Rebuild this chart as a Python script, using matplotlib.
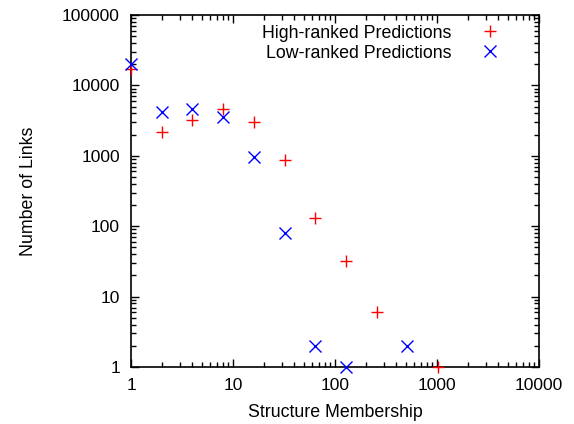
import matplotlib
matplotlib.use("Agg")
import matplotlib.pyplot as plt
from matplotlib.ticker import FixedLocator, FuncFormatter, LogLocator, NullFormatter

plt.rcParams['font.family'] = ['Liberation Sans', 'DejaVu Sans']

high_x = [1, 2, 4, 8, 16, 32, 64, 128, 256, 1024]
high_y = [17000, 2150, 3250, 4650, 3000, 880, 130, 32, 6, 1]
low_x = [1, 2, 4, 8, 16, 32, 64, 128, 512]
low_y = [20000, 4200, 4600, 3600, 960, 80, 2, 1, 2]

x_ticks = [1, 10, 100, 1000, 10000]
y_ticks = [1, 10, 100, 1000, 10000, 100000]

fig = plt.figure(figsize=(5.74, 4.24), dpi=100)
ax = fig.add_axes([131/574, 1 - 367/424, 408/574, 352/424])

ax.plot(high_x, high_y, linestyle='none', marker='+', color='#ff0000',
        markersize=9, mew=1.0, clip_on=False, label='High-ranked Predictions', zorder=3)
ax.plot(low_x, low_y, linestyle='none', marker='x', color='#0000ff',
        markersize=8.5, mew=1.0, clip_on=False, label='Low-ranked Predictions', zorder=3)

ax.set_xscale('log')
ax.set_yscale('log')
ax.set_xlim(1, 10000)
ax.set_ylim(1, 100000)

fmt = FuncFormatter(lambda v, p: f'{int(round(v))}')
ax.xaxis.set_major_locator(FixedLocator(x_ticks))
ax.yaxis.set_major_locator(FixedLocator(y_ticks))
ax.xaxis.set_major_formatter(fmt)
ax.yaxis.set_major_formatter(fmt)
ax.xaxis.set_minor_locator(LogLocator(base=10, subs=range(2, 10), numticks=20))
ax.yaxis.set_minor_locator(LogLocator(base=10, subs=range(2, 10), numticks=20))
ax.xaxis.set_minor_formatter(NullFormatter())
ax.yaxis.set_minor_formatter(NullFormatter())

ax.tick_params(which='both', direction='in', top=True, right=True, labelsize=12.5, width=1.0)
ax.tick_params(which='major', length=6)
ax.tick_params(which='minor', length=3.5)
ax.tick_params(axis='x', which='major', pad=8)
ax.tick_params(axis='y', which='major', pad=8)

for s in ax.spines.values():
    s.set_linewidth(1.2)

ax.set_xlabel('Structure Membership', fontsize=12.8, labelpad=8)
ax.set_ylabel('Number of Links', fontsize=12.8, labelpad=18)

leg = ax.legend(loc='upper right', bbox_to_anchor=(0.94, 0.993), borderaxespad=0,
                frameon=False, markerfirst=False, fontsize=12.8, handlelength=2.0,
                handletextpad=1.15, labelspacing=0.17, borderpad=0.4)

fig.savefig('out.png', dpi=100)
